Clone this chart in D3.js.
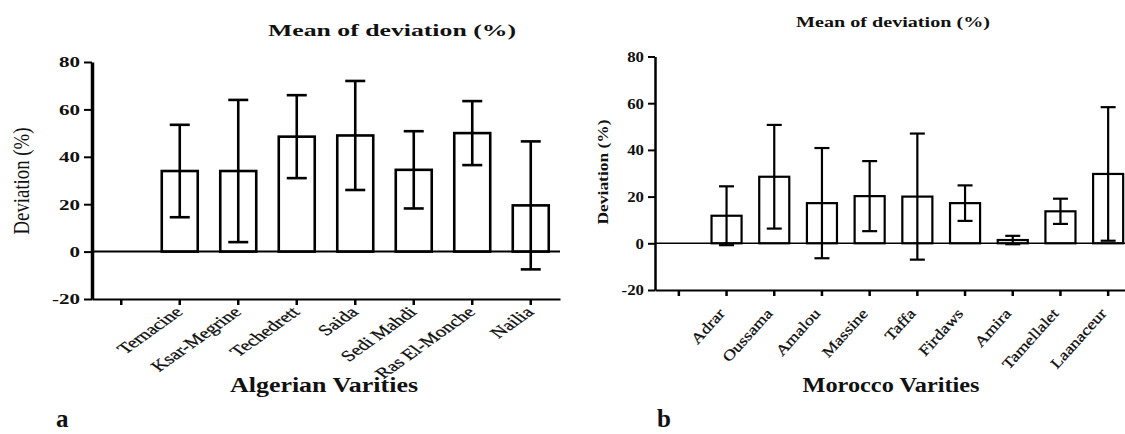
<!DOCTYPE html>
<html>
<head>
<meta charset="utf-8">
<script src="https://cdn.jsdelivr.net/npm/d3@7"></script>
<style>
  body { margin: 0; background: #fff; }
  svg { display: block; }
  text { font-family: "Liberation Serif", "Times New Roman", serif; fill: #111; }
</style>
</head>
<body>
<div id="chart"></div>
<script>
// panel a - Algerian varieties (first slot is an empty category, as in the figure)
const algerianVarieties = ["", "Ternacine", "Ksar-Megrine", "Techedrett", "Saida", "Sedi Mahdi", "Ras El-Monche", "Nailia"];
const algerianMeans = [null, 34, 34, 48.5, 49, 34.5, 50, 19.5];
const algerianSD = [null, 19.5, 30, 17.5, 23, 16.3, 13.5, 27];

// panel b - Morocco varieties
const moroccoVarieties = ["", "Adrar", "Oussama", "Amalou", "Massine", "Taffa", "Firdaws", "Amira", "Tamellalet", "Laanaceur"];
const moroccoMeans = [null, 11.8, 28.5, 17.2, 20.2, 20, 17.2, 1.4, 13.7, 29.7];
const moroccoSD = [null, 12.6, 22.2, 23.6, 15, 27, 7.6, 1.8, 5.4, 28.6];

const yTicks = [-20, 0, 20, 40, 60, 80];
const yDomain = [-20, 80];

const svg = d3.select("#chart").append("svg")
    .attr("width", 1125)
    .attr("height", 434);

svg.append("rect").attr("width", 1125).attr("height", 434).attr("fill", "#fff");

// widen text along its direction (the original figure looks stretched sideways)
function stretch(sel, k) {
  sel.each(function() {
    const w = this.getComputedTextLength();
    d3.select(this).attr("textLength", w * k).attr("lengthAdjust", "spacingAndGlyphs");
  });
}

function drawPanel(o) {
  const data = o.cats.map((c, i) => ({cat: c, mean: o.means[i], sd: o.sd[i]}));

  const x = d3.scaleBand()
      .domain(o.cats)
      .range([o.left, o.left + o.band * o.cats.length])
      .paddingInner(o.pad)
      .paddingOuter(o.pad / 2);

  const y = d3.scaleLinear()
      .domain(yDomain)
      .range([o.bottom, o.top]);

  const g = svg.append("g");
  const mid = d => x(d.cat) + x.bandwidth() / 2;

  // bars
  g.selectAll(".bar")
    .data(data.filter(d => d.mean != null))
    .enter()
    .append("rect")
    .attr("x", d => x(d.cat))
    .attr("y", d => y(d.mean))
    .attr("width", x.bandwidth())
    .attr("height", d => y(0) - y(d.mean))
    .attr("fill", "#fff")
    .attr("stroke", "#000")
    .attr("stroke-width", o.barStroke);

  // error bars (mean +/- sd)
  const err = g.selectAll(".err")
    .data(data.filter(d => d.mean != null))
    .enter()
    .append("g")
    .attr("stroke", "#000")
    .attr("stroke-width", o.barStroke);

  err.append("line")
    .attr("x1", mid).attr("x2", mid)
    .attr("y1", d => y(d.mean + d.sd))
    .attr("y2", d => y(d.mean - d.sd));
  err.append("line")
    .attr("x1", d => mid(d) - o.cap / 2)
    .attr("x2", d => mid(d) + o.cap / 2)
    .attr("y1", d => y(d.mean + d.sd))
    .attr("y2", d => y(d.mean + d.sd));
  err.append("line")
    .attr("x1", d => mid(d) - o.cap / 2)
    .attr("x2", d => mid(d) + o.cap / 2)
    .attr("y1", d => y(d.mean - d.sd))
    .attr("y2", d => y(d.mean - d.sd));

  // zero line
  g.append("line")
    .attr("x1", o.left).attr("x2", x.range()[1])
    .attr("y1", y(0)).attr("y2", y(0))
    .attr("stroke", "#000")
    .attr("stroke-width", o.zeroStroke);

  // x axis
  const xAxis = g.append("g")
    .attr("transform", "translate(0," + o.bottom + ")")
    .call(d3.axisBottom(x).tickSize(6).tickSizeOuter(0));
  xAxis.select(".domain").attr("stroke-width", o.xStroke);
  xAxis.selectAll(".tick line").attr("stroke-width", 2.5);
  const xl = xAxis.selectAll(".tick text")
    .attr("x", null).attr("y", null)
    .attr("dy", null)
    .attr("text-anchor", "end")
    .attr("transform", o.labelTransform)
    .style("font-size", o.catFont + "px")
    .attr("fill", "#000")
    .attr("stroke", "#000")
    .attr("stroke-width", 0.25);
  stretch(xl, o.catStretch);

  // y axis
  const yAxis = g.append("g")
    .attr("transform", "translate(" + o.left + ",0)")
    .call(d3.axisLeft(y).tickValues(yTicks).tickSize(o.yTick).tickPadding(4).tickSizeOuter(0)
      .tickFormat(d => d < 0 ? "-" + (-d) : d));
  yAxis.select(".domain").attr("stroke-width", o.yStroke);
  yAxis.selectAll(".tick line").attr("stroke-width", 2);
  const yl = yAxis.selectAll(".tick text")
    .style("font-size", "15px")
    .style("font-weight", "bold")
    .attr("fill", "#111");
  stretch(yl, o.numStretch);

  // titles
  g.append("text")
    .attr("x", o.titleX).attr("y", o.titleY)
    .attr("text-anchor", "middle")
    .style("font-size", o.titleFont + "px")
    .style("font-weight", "bold")
    .attr("textLength", o.titleLen)
    .attr("lengthAdjust", "spacingAndGlyphs")
    .text("Mean of deviation (%)");

  g.append("text")
    .attr("transform", "translate(" + o.ylabX + "," + o.ylabY + ") scale(" + o.ylabWide + ",1) rotate(-90)")
    .attr("text-anchor", "middle")
    .style("font-size", o.ylabFont + "px")
    .style("font-weight", o.ylabWeight)
    .attr("textLength", o.ylabLen)
    .attr("lengthAdjust", "spacingAndGlyphs")
    .text("Deviation (%)");

  g.append("text")
    .attr("x", o.xtitleX).attr("y", 392)
    .attr("text-anchor", "middle")
    .style("font-size", "20px")
    .style("font-weight", "bold")
    .attr("textLength", o.xtitleLen)
    .attr("lengthAdjust", "spacingAndGlyphs")
    .text(o.xtitle);

  g.append("text")
    .attr("x", o.letterX).attr("y", 427)
    .style("font-size", "25px")
    .style("font-weight", "bold")
    .text(o.letter);
}

drawPanel({
  cats: algerianVarieties, means: algerianMeans, sd: algerianSD,
  left: 92, band: 58.5, pad: 0.385, top: 62, bottom: 299,
  barStroke: 2.6, zeroStroke: 2, xStroke: 2, yStroke: 3.5, yTick: 8, cap: 20,
  labelTransform: "translate(4,14) scale(1.4,1) rotate(-45)", catFont: 15, catStretch: 1, numStretch: 1.4,
  titleX: 392, titleY: 36, titleFont: 16, titleLen: 248,
  ylabX: 29, ylabY: 181, ylabFont: 17, ylabWeight: "normal", ylabLen: 107, ylabWide: 1.35,
  xtitle: "Algerian Varities", xtitleX: 324, xtitleLen: 188,
  letter: "a", letterX: 56
});

drawPanel({
  cats: moroccoVarieties, means: moroccoMeans, sd: moroccoSD,
  left: 655, band: 47.7, pad: 0.37, top: 56.5, bottom: 290,
  barStroke: 2.2, zeroStroke: 1.5, xStroke: 2, yStroke: 2.5, yTick: 7, cap: 15,
  labelTransform: "translate(-1,24) rotate(-48)", catFont: 15, catStretch: 1.2, numStretch: 1.12,
  titleX: 893, titleY: 27, titleFont: 15, titleLen: 194,
  ylabX: 608, ylabY: 172, ylabFont: 13, ylabWeight: "bold", ylabLen: 105, ylabWide: 1.1,
  xtitle: "Morocco Varities", xtitleX: 891, xtitleLen: 177,
  letter: "b", letterX: 657
});
</script>
</body>
</html>
